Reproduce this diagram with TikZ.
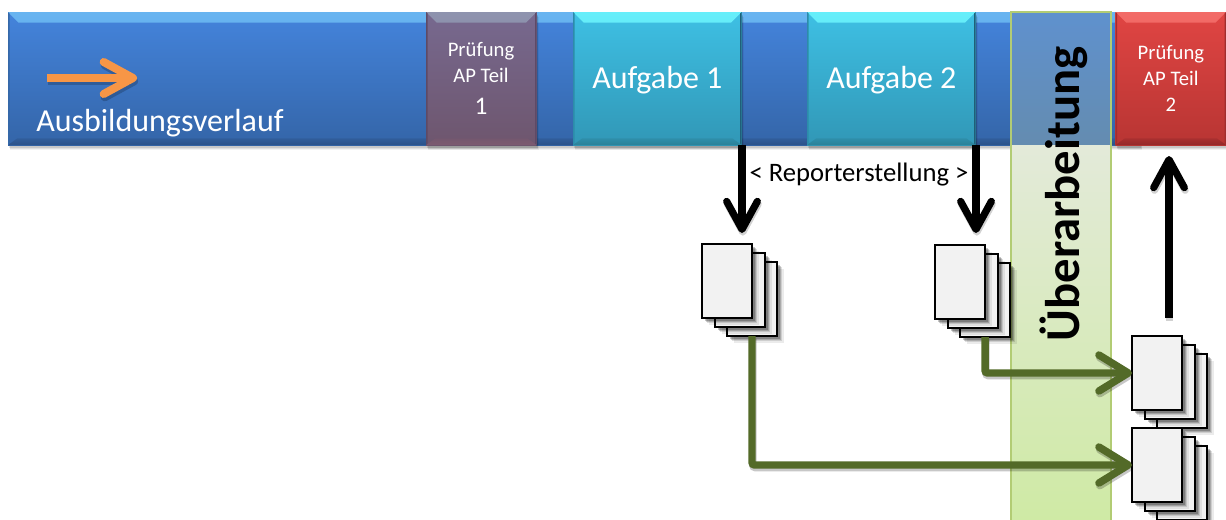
\documentclass[tikz,border=0pt]{standalone}
\usepackage{fontspec}
\setmainfont{Carlito}
\usetikzlibrary{arrows.meta,shadows,positioning}
\definecolor{pagegray}{HTML}{F2F2F2}
\definecolor{linegreen}{HTML}{536A28}
\definecolor{arroworange}{HTML}{F79646}
\definecolor{blueT}{HTML}{4484DC}\definecolor{blueB}{HTML}{3465A8}\definecolor{blueL}{HTML}{68B4F0}\definecolor{blueD}{HTML}{2C5288}\definecolor{blueS}{HTML}{3568A8}
\definecolor{tealT}{HTML}{3EC0E4}\definecolor{tealB}{HTML}{3197B6}\definecolor{tealL}{HTML}{66EEFA}\definecolor{tealD}{HTML}{2B8198}\definecolor{tealS}{HTML}{2C8CAA}\definecolor{tealR}{HTML}{205F78}
\definecolor{redT}{HTML}{E04543}\definecolor{redB}{HTML}{B83533}\definecolor{redL}{HTML}{F26B67}\definecolor{redD}{HTML}{93292A}\definecolor{redS}{HTML}{A02E2E}
\definecolor{purpT}{HTML}{77698F}\definecolor{purpB}{HTML}{6E566E}\definecolor{purpL}{HTML}{8E93AE}\definecolor{purpD}{HTML}{7D5A70}\definecolor{purpS}{HTML}{5E4A66}
\definecolor{bandT}{HTML}{E3EAD9}\definecolor{bandB}{HTML}{CFEAA5}\definecolor{bandE}{HTML}{B2CC74}
\definecolor{bandOT}{HTML}{5F91CE}\definecolor{bandOB}{HTML}{648CB0}
\tikzset{
  x=0.75pt,y=-0.75pt,
  softshadow/.style={
    general shadow={shadow xshift=0.4pt,shadow yshift=-1.0pt,fill=black,opacity=.10},
    general shadow={shadow xshift=0.8pt,shadow yshift=-2.0pt,fill=black,opacity=.10},
    general shadow={shadow xshift=1.2pt,shadow yshift=-3.0pt,fill=black,opacity=.08},
    general shadow={shadow xshift=1.6pt,shadow yshift=-4.0pt,fill=black,opacity=.05}},
  bevelbox/.style n args={6}{
    anchor=north west,inner sep=0pt,outer sep=0pt,text=white,align=center,
    top color=#1,bottom color=#2,minimum height=99.75pt,
    softshadow,
    path picture={
      \path[top color=#3,bottom color=#3!55!#1] (path picture bounding box.north west) -- (path picture bounding box.north east)
        -- ([shift={(-8pt,-8pt)}]path picture bounding box.north east)
        -- ([shift={(8pt,-8pt)}]path picture bounding box.north west) -- cycle;
      \path[top color=#2!60!#4,bottom color=#4] (path picture bounding box.south west) -- (path picture bounding box.south east)
        -- ([shift={(-7pt,5pt)}]path picture bounding box.south east)
        -- ([shift={(7pt,5pt)}]path picture bounding box.south west) -- cycle;
      \fill[#5] (path picture bounding box.north west) -- (path picture bounding box.south west)
        -- ([shift={(1.2pt,1.2pt)}]path picture bounding box.south west)
        -- ([shift={(1.2pt,-1.2pt)}]path picture bounding box.north west) -- cycle;
      \fill[#6] (path picture bounding box.north east) -- (path picture bounding box.south east)
        -- ([shift={(-1.2pt,1.2pt)}]path picture bounding box.south east)
        -- ([shift={(-1.2pt,-1.2pt)}]path picture bounding box.north east) -- cycle;
    }},
  bluebar/.style={bevelbox={blueT}{blueB}{blueL}{blueD}{blueS}{blueS}},
  tealbox/.style={bevelbox={tealT}{tealB}{tealL}{tealD}{tealS}{tealR}},
  redbox/.style={bevelbox={redT}{redB}{redL}{redD}{redS}{redS}},
  purplebox/.style={bevelbox={purpT}{purpB}{purpL}{purpD}{purpS}{purpS}},
  sheet/.style={draw=black,line width=1.3pt,fill=pagegray,anchor=north west,inner sep=0pt,outer sep=0pt,
    minimum width=37.5pt,minimum height=55.5pt,
    general shadow={shadow xshift=1pt,shadow yshift=-1pt,fill=black,opacity=.25},
    general shadow={shadow xshift=2pt,shadow yshift=-2pt,fill=black,opacity=.22},
    general shadow={shadow xshift=3pt,shadow yshift=-3pt,fill=black,opacity=.18},
    general shadow={shadow xshift=4pt,shadow yshift=-4pt,fill=black,opacity=.12},
    general shadow={shadow xshift=5pt,shadow yshift=-5pt,fill=black,opacity=.08}},
  blackarrow/.style={draw=black,line width=5.4pt,-{Straight Barb[length=21pt,width=23pt,round,line width=5.4pt]}},
  blackshadow/.style={draw=black,opacity=.18,line width=5.4pt,transform canvas={xshift=.6pt,yshift=-2pt},
    -{Straight Barb[length=21pt,width=23pt,round,line width=5.4pt]}},
  greenarrow/.style={draw=linegreen,line width=5.6pt,rounded corners=2pt,
    -{Straight Barb[length=22pt,width=27pt,round,line width=5.6pt]}},
  greenshadow/.style={draw=black,opacity=.22,line width=5.6pt,rounded corners=2pt,transform canvas={xshift=.6pt,yshift=-2pt},
    -{Straight Barb[length=22pt,width=27pt,round,line width=5.6pt]}},
  orangearrow/.style={draw=arroworange,line width=6pt,
    -{Straight Barb[length=22pt,width=24pt,round,line width=6pt]}},
  orangeshadow/.style={draw=black,opacity=.2,line width=6pt,transform canvas={xshift=.8pt,yshift=-2.5pt},
    -{Straight Barb[length=22pt,width=24pt,round,line width=6pt]}},
}
\begin{document}
\begin{tikzpicture}
\useasboundingbox (0,0) rectangle (1226,519);
% main bar
\node[bluebar,minimum width=849pt] (bar) at (8,12) {};
\node[purplebox,minimum width=83pt] (pruefa) at (426,12) {};
\node[font=\fontsize{15.5}{19.5}\selectfont,text=white,align=center,anchor=north] (pruefatxt) at (481,38)
  {Prüfung\\AP Teil\\[4pt]{\fontsize{19}{20}\selectfont 1}};
\node[tealbox,minimum width=126.5pt,font=\fontsize{24}{26}\selectfont] (auf1) at (573,12) {\raisebox{-7.5pt}[0pt][0pt]{Aufgabe 1}};
\node[tealbox,minimum width=126.5pt,font=\fontsize{24}{26}\selectfont] (auf2) at (807,12) {\raisebox{-7.5pt}[0pt][0pt]{Aufgabe 2}};
\node[font=\fontsize{24}{26}\selectfont,text=white,anchor=base west,inner sep=0pt] (verlauf) at (36,131) {Ausbildungsverlauf};
\coordinate (oa) at (47,78); \coordinate (ob) at (137,78);
\draw[orangeshadow] (oa) -- (ob);
\draw[orangearrow] (oa) -- (ob);
% revision band
\path[top color=bandOT,bottom color=bandOB] (1011,12) rectangle (1111,145);
\path[top color=bandT,bottom color=bandB] (1011,145) rectangle (1111,519);
\draw[draw=bandE,line width=1.4pt] (1011,520) -- (1011,12) -- (1111,12) -- (1111,520);
% red
\node[redbox,minimum width=83pt,font=\fontsize{15.5}{19.5}\selectfont] (pruefb) at (1115.5,12) {Prüfung\\AP Teil\\2};
% label
\node[rotate=90,font=\bfseries\fontsize{36.5}{38}\selectfont,inner sep=0pt] (ueber) at (1064,194) {Überarbeitung};
\node[font=\fontsize{20}{22}\selectfont,inner sep=0pt] (report) at (859,175) {< Reporterstellung >};
% doc stacks
\foreach \nm/\xx/\yy in {one/702/244,two/935/245,three/1132/336,four/1132/428}{
  \node[sheet] (\nm c) at (\xx+25,\yy+18) {};
  \node[sheet] (\nm b) at (\xx+13,\yy+9) {};
  \node[sheet] (\nm a) at (\xx,\yy) {};
}
% connectors
\coordinate (a1s) at (742,145); \coordinate (a1e) at (742,233);
\coordinate (a2s) at (976,145); \coordinate (a2e) at (976,233);
\coordinate (ups) at (1169,318); \coordinate (upe) at (1169,156);
\draw[blackshadow] (a1s) -- (a1e);
\draw[blackshadow] (a2s) -- (a2e);
\draw[blackshadow] (ups) -- (upe);
\draw[blackarrow] (a1s) -- (a1e);
\draw[blackarrow] (a2s) -- (a2e);
\draw[blackarrow] (ups) -- (upe);
\draw[greenshadow] (onec.south) |- (foura.west);
\draw[greenshadow] (twoc.south) |- (threea.west);
\draw[greenarrow] (onec.south) |- (foura.west);
\draw[greenarrow] (twoc.south) |- (threea.west);
\end{tikzpicture}
\end{document}
